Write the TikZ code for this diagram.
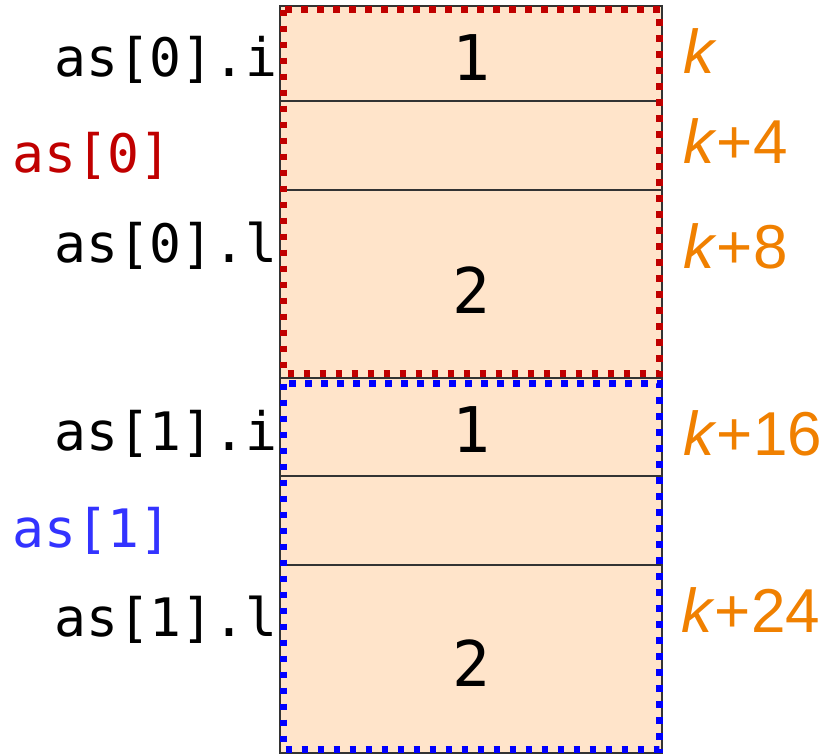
\documentclass[tikz,border=0pt]{standalone}
\usepackage{fontspec}
\setmainfont{Liberation Sans}
\setmonofont{DejaVu Sans Mono}
\definecolor{cellfill}{RGB}{255,228,202}
\definecolor{redline}{RGB}{192,0,0}
\definecolor{blueline}{RGB}{0,0,255}
\definecolor{bluetext}{RGB}{51,51,255}
\definecolor{orangetext}{RGB}{240,128,0}
\tikzset{
  cell/.style={fill=cellfill, draw=black!80, line width=1.3pt},
  grp/.style={line width=7pt, dash pattern=on 6.5pt off 9.5pt},
  lbl/.style={anchor=base west, inner sep=0pt, font=\ttfamily\fontsize{53}{60}\selectfont},
  num/.style={anchor=base, inner sep=0pt, font=\ttfamily\fontsize{63}{70}\selectfont},
  addr/.style={anchor=base west, inner sep=0pt, text=orangetext, font=\fontsize{62}{70}\selectfont},
}
\begin{document}
\begin{tikzpicture}[x=1pt,y=-1pt]
\useasboundingbox (0,0) rectangle (825,755);
% cells
\draw[cell] (280,6) rectangle (662,101);
\draw[cell] (280,101) rectangle (662,190);
\draw[cell] (280,190) rectangle (662,378);
\draw[cell] (280,378) rectangle (662,476);
\draw[cell] (280,476) rectangle (662,565);
\draw[cell] (280,565) rectangle (662,753);
% group outlines
\draw[grp, redline] (283.5,9.5) rectangle (659.5,373.5);
\draw[grp, blueline] (283.5,383.5) rectangle (659.5,749.5);
% values
\node[num] (v1) at (471,80) {1};
\node[num] (v2) at (471,313) {2};
\node[num] (v3) at (471,452) {1};
\node[num] (v4) at (471,686) {2};
% left labels
\node[lbl] (a0i) at (54,76) {as[0].i};
\node[lbl, text=redline] (a0) at (12,172) {as[0]};
\node[lbl] (a0l) at (54,262) {as[0].l};
\node[lbl] (a1i) at (54,450) {as[1].i};
\node[lbl, text=bluetext] (a1) at (12,547) {as[1]};
\node[lbl] (a1l) at (54,636) {as[1].l};
% addresses
\node[addr] (k0) at (683,73) {\textit{k}};
\node[addr] (k4) at (683,163) {\textit{k}+4};
\node[addr] (k8) at (683,268) {\textit{k}+8};
\node[addr] (k16) at (683,455) {\textit{k}+16};
\node[addr] (k24) at (681,632) {\textit{k}+24};
\end{tikzpicture}
\end{document}
